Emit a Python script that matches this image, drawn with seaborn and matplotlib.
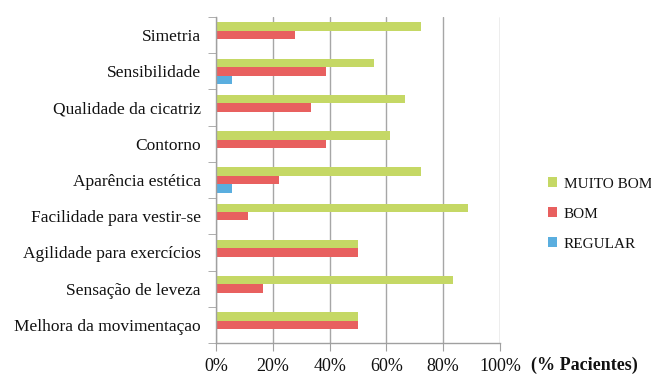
import matplotlib
matplotlib.use("Agg")
import matplotlib.pyplot as plt
import seaborn as sns
import pandas as pd
from matplotlib.patches import Patch
from matplotlib.ticker import FixedLocator, FuncFormatter

categories = ["Simetria", "Sensibilidade", "Qualidade da cicatriz", "Contorno",
              "Aparência estética", "Facilidade para vestir-se",
              "Agilidade para exercícios", "Sensação de leveza",
              "Melhora da movimentaçao"]
muito_bom = [72.2, 55.6, 66.7, 61.1, 72.2, 88.9, 50.0, 83.3, 50.0]
bom = [27.8, 38.9, 33.3, 38.9, 22.2, 11.1, 50.0, 16.7, 50.0]
regular = [0.0, 5.6, 0.0, 0.0, 5.6, 0.0, 0.0, 0.0, 0.0]
levels = ["MUITO BOM", "BOM", "REGULAR"]
colors = ["#C5D865", "#E8605F", "#5AAEDF"]
xticks = [0, 20, 40, 60, 80, 100]

rows = []
for lvl, vals in zip(levels, [muito_bom, bom, regular]):
    for c, v in zip(categories, vals):
        rows.append({"cat": c, "val": v, "level": lvl})
df = pd.DataFrame(rows)

sns.set_style("white")
serif = ["Liberation Serif", "DejaVu Serif"]
plt.rcParams["font.family"] = serif
plt.rcParams["text.color"] = "#111111"
plt.rcParams["xtick.color"] = "#111111"
plt.rcParams["ytick.color"] = "#111111"

fig = plt.figure(figsize=(6.51, 3.76), dpi=100)
ax = fig.add_axes([216 / 651, 1 - 343 / 376, (500 - 216) / 651, (343 - 17) / 376])

sns.barplot(data=df, y="cat", x="val", hue="level", orient="h", order=categories,
            hue_order=levels, palette=colors, width=0.7, ax=ax, legend=False,
            saturation=1, edgecolor="none")

ax.set_xlim(0, 100)
ax.set_ylim(len(categories) - 0.5, -0.5)
ax.xaxis.set_major_locator(FixedLocator(xticks))
ax.xaxis.set_major_formatter(FuncFormatter(lambda v, p: f"{int(v)}%"))
ax.grid(axis="x", color="#a6a6a6", linewidth=1)
ax.grid(axis="y", visible=False)
ax.set_axisbelow(True)
for s in ["top", "right"]:
    ax.spines[s].set_visible(False)
for s in ["left", "bottom"]:
    ax.spines[s].set_color("#a0a0a0")
    ax.spines[s].set_linewidth(1)

ax.set_yticks(range(len(categories)))
ax.set_yticklabels(categories, fontsize=12.5)
ax.set_yticks([i - 0.5 for i in range(len(categories) + 1)], minor=True)
ax.tick_params(axis="y", which="major", length=0, pad=11)
ax.tick_params(axis="y", which="minor", length=6, color="#a0a0a0", direction="out", left=True)
ax.tick_params(axis="x", which="major", length=6, color="#a0a0a0", direction="out",
               bottom=True, labelsize=13, pad=5)
ax.set_xlabel("")
ax.set_ylabel("")

handles = [Patch(facecolor=c, edgecolor="none") for c in colors]
fig.legend(handles, levels, loc="center left", bbox_to_anchor=(534 / 651, 1 - 214 / 376),
           frameon=False, fontsize=11, handlelength=0.6, handleheight=0.6,
           handletextpad=0.45, labelspacing=1.1)

fig.text(531 / 651, 1 - 365 / 376, "(% Pacientes)", fontsize=13, fontweight="bold",
         ha="left", va="center")

fig.savefig("out.png", dpi=100)
